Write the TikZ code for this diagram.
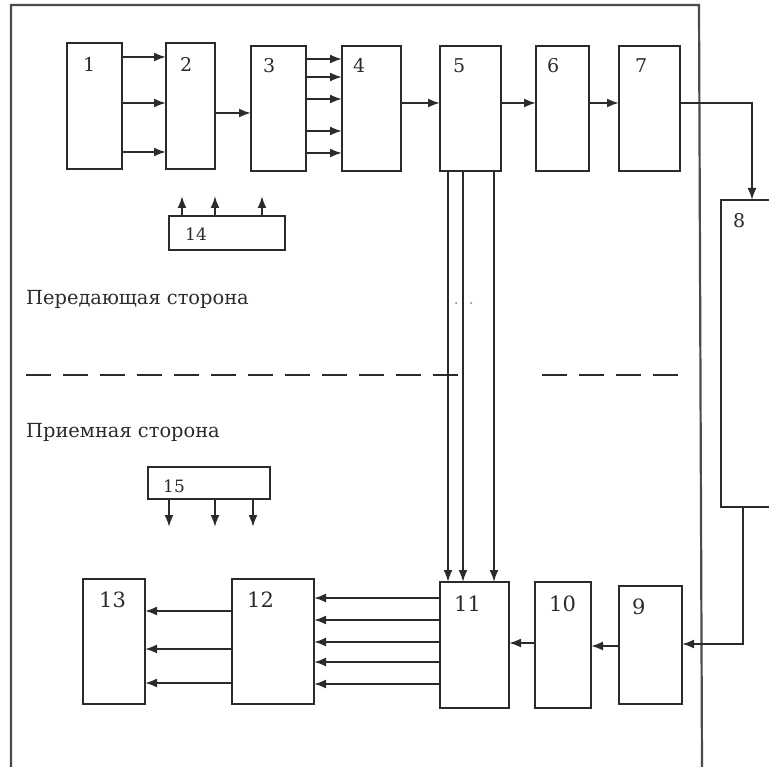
\documentclass[tikz,border=0pt]{standalone}
\usepackage{fontspec}
\setmainfont{DejaVu Serif}
\usetikzlibrary{arrows.meta,calc}
\definecolor{ink}{HTML}{2B2B2B}
\begin{document}
\begin{tikzpicture}[x=1pt,y=-1pt,
  blk/.style={draw=ink, line width=2.1pt, anchor=north west, inner sep=0pt, outer sep=0pt},
  arr/.style={draw=ink, line width=2pt, -{Latex[length=12pt,width=9pt]}},
  frame/.style={draw=ink!85, line width=2.2pt},
  sepline/.style={draw=ink, line width=2pt, dash pattern=on 25pt off 12pt},
  num/.style={anchor=base west, inner sep=0pt, text=ink, font=\fontsize{19}{22}\selectfont},
  numb/.style={num, font=\fontsize{21}{24}\selectfont},
  nums/.style={num, font=\fontsize{17}{20}\selectfont},
  side/.style={anchor=base west, inner sep=0pt, text=ink, font=\fontsize{19.4}{23}\selectfont}]
\useasboundingbox (0,0) rectangle (769,767);
\fill[white] (0,0) rectangle (769,767);

% frame
\draw[frame] (11,767) -- (11,5) -- (699,5) -- (702,767);

% blocks
\node[blk, minimum width=55pt, minimum height=126pt] (b1) at (67,43) {};
\node[blk, minimum width=49pt, minimum height=126pt] (b2) at (166,43) {};
\node[blk, minimum width=55pt, minimum height=125pt] (b3) at (251,46) {};
\node[blk, minimum width=59pt, minimum height=125pt] (b4) at (342,46) {};
\node[blk, minimum width=61pt, minimum height=125pt] (b5) at (440,46) {};
\node[blk, minimum width=53pt, minimum height=125pt] (b6) at (536,46) {};
\node[blk, minimum width=61pt, minimum height=125pt] (b7) at (619,46) {};
\node[blk, minimum width=80pt, minimum height=307pt] (b8) at (721,200) {};
\node[blk, minimum width=116pt, minimum height=34pt] (b14) at (169,216) {};
\node[blk, minimum width=122pt, minimum height=32pt] (b15) at (148,467) {};
\node[blk, minimum width=62pt, minimum height=125pt] (b13) at (83,579) {};
\node[blk, minimum width=82pt, minimum height=125pt] (b12) at (232,579) {};
\node[blk, minimum width=69pt, minimum height=126pt] (b11) at (440,582) {};
\node[blk, minimum width=56pt, minimum height=126pt] (b10) at (535,582) {};
\node[blk, minimum width=63pt, minimum height=118pt] (b9) at (619,586) {};

% labels
\node[num] (t1) at (83,72) {1};
\node[num] (t2) at (180,72) {2};
\node[num] (t3) at (263,73) {3};
\node[num] (t4) at (353,73) {4};
\node[num] (t5) at (453,73) {5};
\node[num] (t6) at (547,73) {6};
\node[num] (t7) at (635,73) {7};
\node[num] (t8) at (733,228) {8};
\node[nums] (t14) at (185,241) {14};
\node[nums] (t15) at (163,493) {15};
\node[numb] (t13) at (99,607) {13};
\node[numb] (t12) at (247,607) {12};
\node[numb] (t11) at (454,611) {11};
\node[numb] (t10) at (549,611) {10};
\node[numb] (t9) at (632,614) {9};

\node[side] (tx1) at (26,305) {Передающая сторона};
\node[side] (tx2) at (26,438) {Приемная сторона};

% separator
\draw[sepline] (26,375) -- (460,375);
\draw[sepline] (542,375) -- (680,375);
\fill[ink!60] (456,303) circle (1pt) (471,303) circle (1pt);

% 1 -> 2
\foreach \yy in {57,103,152} \draw[arr] (b1.east |- 0,\yy) -- (b2.west |- 0,\yy);
% 2 -> 3
\draw[arr] (b2.east |- 0,113) -- (b3.west |- 0,113);
% 3 -> 4
\foreach \yy in {59,77,99,131,153} \draw[arr] (b3.east |- 0,\yy) -- (b4.west |- 0,\yy);
% 4 -> 5 -> 6 -> 7
\draw[arr] (b4.east |- 0,103) -- (b5.west |- 0,103);
\draw[arr] (b5.east |- 0,103) -- (b6.west |- 0,103);
\draw[arr] (b6.east |- 0,103) -- (b7.west |- 0,103);
% 7 -> 8
\draw[arr] (b7.east |- 0,103) -| (b8.north -| 752,0);
% 14 up arrows
\coordinate (u1) at (182,196);
\coordinate (u2) at (215,196);
\coordinate (u3) at (262,196);
\foreach \c in {u1,u2,u3} \draw[arr] (b14.north -| \c) -- (\c);
% 15 down arrows
\coordinate (d1) at (169,527);
\coordinate (d2) at (215,527);
\coordinate (d3) at (253,527);
\foreach \c in {d1,d2,d3} \draw[arr] (b15.south -| \c) -- (\c);
% 5 -> 11
\foreach \xx in {448,463,494} \draw[arr] (b5.south -| \xx,0) -- (b11.north -| \xx,0);
% 8 -> 9
\draw[arr] (b8.south -| 743,0) |- (b9.east |- 0,644);
% 9 -> 10 -> 11
\draw[arr] (b9.west |- 0,646) -- (b10.east |- 0,646);
\draw[arr] (b10.west |- 0,643) -- (b11.east |- 0,643);
% 11 -> 12
\foreach \yy in {598,620,642,662,684} \draw[arr] (b11.west |- 0,\yy) -- (b12.east |- 0,\yy);
% 12 -> 13
\foreach \yy in {611,649,683} \draw[arr] (b12.west |- 0,\yy) -- (b13.east |- 0,\yy);
\end{tikzpicture}
\end{document}
